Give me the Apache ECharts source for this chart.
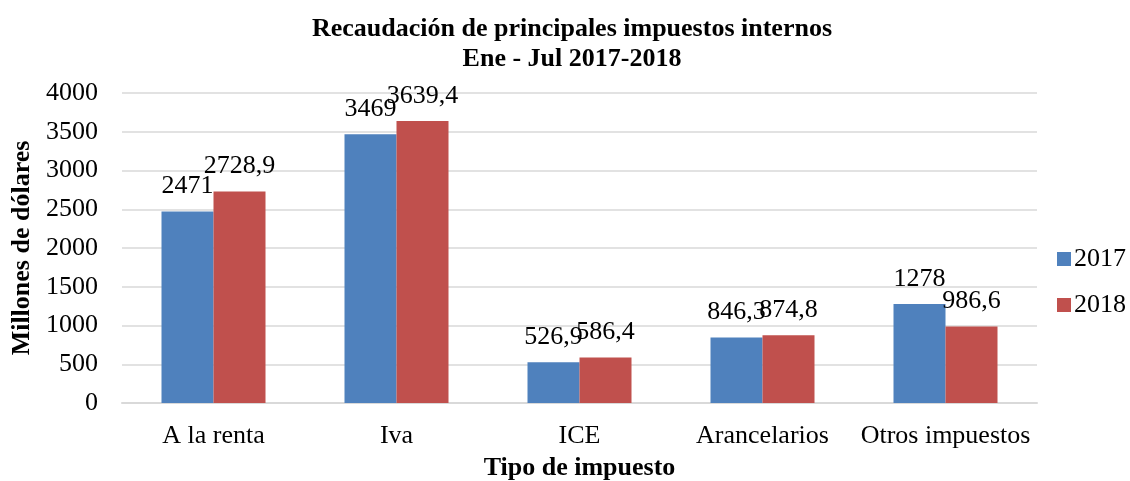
<!DOCTYPE html>
<html>
<head>
<meta charset="utf-8">
<script src="https://cdn.jsdelivr.net/npm/echarts@6/dist/echarts.min.js"></script>
<style>
  html, body { margin: 0; padding: 0; background: #fff; }
  #chart { width: 1130px; height: 481px; }
</style>
</head>
<body>
<div id="chart"></div>
<script>
var categories = ['A la renta', 'Iva', 'ICE', 'Arancelarios', 'Otros impuestos'];
var values2017 = [2471, 3469, 526.9, 846.3, 1278];
var values2018 = [2728.9, 3639.4, 586.4, 874.8, 986.6];
var yTicks = { min: 0, max: 4000, interval: 500 };

var serif = '"Liberation Serif", "Times New Roman", serif';

function fmt(p) {
  return String(p.value).replace('.', ',');
}

var chart = echarts.init(document.getElementById('chart'));
var option = {
  animation: false,
  textStyle: { fontFamily: serif },
  title: {
    text: 'Recaudación de principales impuestos internos\nEne - Jul 2017-2018',
    left: 567,
    textAlign: 'center',
    top: 9,
    textStyle: {
      fontFamily: serif,
      fontSize: 26,
      fontWeight: 'bold',
      color: '#000',
      lineHeight: 30
    }
  },
  legend: {
    orient: 'vertical',
    left: 1052,
    top: 241,
    itemWidth: 14,
    itemHeight: 14,
    itemGap: 20,
    icon: 'rect',
    textStyle: { fontFamily: serif, fontSize: 26, color: '#000', padding: [0, 0, 0, -2] },
    data: ['2017', '2018']
  },
  grid: {
    left: 122,
    right: 93,
    top: 93,
    bottom: 78,
    containLabel: false,
    outerBoundsMode: 'none'
  },
  xAxis: {
    type: 'category',
    data: categories,
    name: 'Tipo de impuesto',
    nameLocation: 'middle',
    nameGap: 52,
    nameTextStyle: { fontFamily: serif, fontSize: 26, fontWeight: 'bold', color: '#000' },
    axisLine: { lineStyle: { color: '#d9d9d9', width: 2 } },
    axisTick: { show: false },
    axisLabel: { interval: 0, fontFamily: serif, fontSize: 26, color: '#000', margin: 20 }
  },
  yAxis: {
    type: 'value',
    min: yTicks.min,
    max: yTicks.max,
    interval: yTicks.interval,
    name: 'Millones de dólares',
    nameLocation: 'middle',
    nameGap: 84,
    nameRotate: 90,
    nameTextStyle: { fontFamily: serif, fontSize: 26, fontWeight: 'bold', color: '#000' },
    axisLine: { show: false },
    axisTick: { show: false },
    axisLabel: {
      fontFamily: serif,
      fontSize: 26,
      color: '#000',
      margin: 24,
      formatter: function (v) { return String(v); }
    },
    splitLine: { lineStyle: { color: '#d9d9d9', width: 1.5 } }
  },
  series: [
    {
      name: '2017',
      type: 'bar',
      data: values2017,
      barWidth: 52,
      barGap: '0%',
      itemStyle: { color: '#4f81bd' },
      label: {
        show: true,
        position: 'top',
        distance: 12,
        fontFamily: serif,
        fontSize: 26,
        color: '#000',
        formatter: fmt
      }
    },
    {
      name: '2018',
      type: 'bar',
      data: values2018,
      barWidth: 52,
      barGap: '0%',
      itemStyle: { color: '#c0504d' },
      label: {
        show: true,
        position: 'top',
        distance: 12,
        fontFamily: serif,
        fontSize: 26,
        color: '#000',
        formatter: fmt
      }
    }
  ]
};
chart.setOption(option);
</script>
</body>
</html>
